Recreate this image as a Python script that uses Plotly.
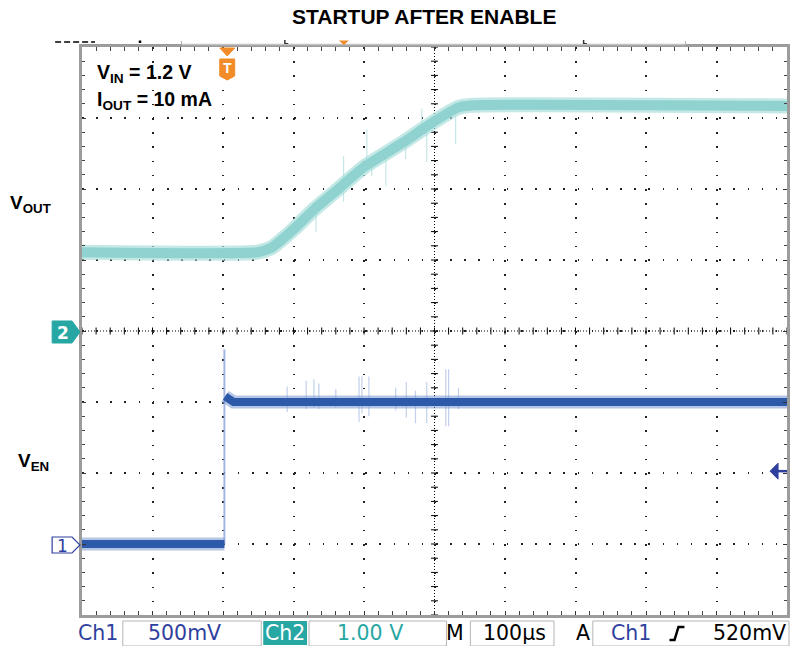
import plotly.graph_objects as go
import numpy as np

# ---------------- data ----------------
# Ch2 : V_OUT (1.00 V/div), time in microseconds (100 us/div)
vout_t = [0, 249, 268, 301, 330, 360, 400, 453, 501, 534, 555, 1000]
vout_v = [1.11, 1.11, 1.17, 1.44, 1.72, 1.97, 2.31, 2.64, 2.96, 3.15, 3.18, 3.17]
# glitches on V_OUT: time, low, high (V)
vout_sp_t = [332, 371, 404, 411, 431, 459, 482, 489, 530, 538]
vout_sp_lo = [1.39, 1.82, 2.30, 2.18, 2.04, 2.42, 2.80, 2.38, 2.63, 3.10]
vout_sp_hi = [1.76, 2.46, 2.84, 2.40, 2.55, 2.75, 3.13, 2.90, 3.10, 3.24]

# Ch1 : V_EN (500 mV/div)
ven_low_t = [0, 202]
ven_low_v = [0.0, 0.0]
ven_high_t = [203, 206, 215, 1000]
ven_high_v = [1.04, 1.03, 1.0, 1.0]
ven_edge_t = [202, 202]
ven_edge_v = [0.0, 1.37]
ven_sp_t = [291, 318, 329, 336, 360, 393, 397, 407, 445, 460, 473, 489, 516, 520, 534]
ven_sp_lo = [0.93, 0.95, 0.96, 0.95, 0.96, 0.86, 0.92, 0.90, 0.94, 0.89, 0.85, 0.85, 0.83, 0.83, 0.95]
ven_sp_hi = [1.11, 1.15, 1.16, 1.13, 1.09, 1.18, 1.18, 1.18, 1.10, 1.14, 1.08, 1.14, 1.23, 1.23, 1.10]

trig_t = 206          # trigger position (us)
trig_level = 0.52     # V (Ch1)

title = "STARTUP AFTER ENABLE"
bar_items = ["Ch1", "500mV", "Ch2", "1.00 V", "M", "100µs", "A", "Ch1", "520mV"]

# ---------------- geometry ----------------
W, H = 793, 646
L, R, T, B = 82, 790, 47, 615
PW, PH = R - L, B - T


def px(x):
    return (x - L) / PW


def py(y):
    return (B - y) / PH


CYAN = "#8fd2cf"
BLUE = "#2c5aa8"
NAVY = "#2f3f9e"
TEAL = "#27a7a4"
ORANGE = "#f28c28"


def segs(t, lo, hi):
    xs, ys = [], []
    for a, b, c in zip(t, lo, hi):
        xs += [a, a, None]
        ys += [b, c, None]
    return xs, ys


fig = go.Figure()

# V_OUT (Ch2, y2)
sx, sy = segs(vout_sp_t, vout_sp_lo, vout_sp_hi)
fig.add_trace(go.Scatter(x=sx, y=sy, mode="lines", yaxis="y2",
                         line=dict(color="rgba(150,212,210,0.55)", width=1.2),
                         hoverinfo="skip", showlegend=False))
fig.add_trace(go.Scatter(x=vout_t, y=vout_v, mode="lines", yaxis="y2",
                         line=dict(color="rgba(170,222,220,0.7)", width=15, shape="spline", smoothing=0.5),
                         hoverinfo="skip", showlegend=False))
fig.add_trace(go.Scatter(x=vout_t, y=vout_v, mode="lines", yaxis="y2",
                         line=dict(color=CYAN, width=10, shape="spline", smoothing=0.5),
                         hoverinfo="skip", showlegend=False))

# V_EN (Ch1, y)
sx, sy = segs(ven_sp_t, ven_sp_lo, ven_sp_hi)
fig.add_trace(go.Scatter(x=sx, y=sy, mode="lines",
                         line=dict(color="rgba(120,150,210,0.45)", width=1.2),
                         hoverinfo="skip", showlegend=False))
fig.add_trace(go.Scatter(x=ven_edge_t, y=ven_edge_v, mode="lines",
                         line=dict(color="rgba(140,165,220,0.8)", width=2),
                         hoverinfo="skip", showlegend=False))
for tt, vv in [(ven_low_t, ven_low_v), (ven_high_t, ven_high_v)]:
    fig.add_trace(go.Scatter(x=tt, y=vv, mode="lines",
                             line=dict(color="rgba(120,150,210,0.55)", width=13),
                             hoverinfo="skip", showlegend=False))
    fig.add_trace(go.Scatter(x=tt, y=vv, mode="lines",
                             line=dict(color=BLUE, width=8),
                             hoverinfo="skip", showlegend=False))

shapes = []
# center cross lines with minor ticks
xr = [0, 1000]
yr = [-0.5, 3.5]
shapes.append(dict(type="line", xref="x", yref="y", x0=500, x1=500, y0=yr[0], y1=yr[1],
                   line=dict(color="black", width=1, dash="1px,2px"), layer="below"))
shapes.append(dict(type="line", xref="x", yref="y", x0=xr[0], x1=xr[1], y0=1.5, y1=1.5,
                   line=dict(color="black", width=1, dash="1px,2px"), layer="below"))
hx = 3.5 / PW * 1000
hy = 3.5 / PH * 4.0
for v in np.arange(yr[0], yr[1] + 1e-9, 0.1):
    shapes.append(dict(type="line", xref="x", yref="y", x0=500 - hx, x1=500 + hx, y0=v, y1=v,
                       line=dict(color="black", width=1), layer="below"))
for t in np.arange(xr[0], xr[1] + 1e-9, 20):
    shapes.append(dict(type="line", xref="x", yref="y", x0=t, x1=t, y0=1.5 - hy, y1=1.5 + hy,
                       line=dict(color="black", width=1), layer="below"))


def path(pts, close=True):
    s = "M" + " L".join(f"{px(x):.5f},{py(y):.5f}" for x, y in pts)
    return s + (" Z" if close else "")


# channel ground markers
shapes.append(dict(type="path", xref="paper", yref="paper",
                   path=path([(52, 321), (72, 321), (80, 332), (72, 343), (52, 343)]),
                   fillcolor=TEAL, line=dict(color=TEAL, width=1)))
shapes.append(dict(type="path", xref="paper", yref="paper",
                   path=path([(52, 537), (72, 537), (80, 545), (72, 553), (52, 553)]),
                   fillcolor="white", line=dict(color=NAVY, width=1.2)))
# trigger level arrow (right)
ty = 545 - trig_level / 0.5 * 71
shapes.append(dict(type="path", xref="paper", yref="paper",
                   path=path([(773, ty), (781, ty - 8), (781, ty + 8)]),
                   fillcolor=NAVY, line=dict(color=NAVY, width=1)))
shapes.append(dict(type="line", xref="paper", yref="paper", x0=px(780), x1=px(790), y0=py(ty), y1=py(ty),
                   line=dict(color=NAVY, width=2.5)))
# trigger marker T (top)
tx = L + trig_t / 1000 * PW
shapes.append(dict(type="path", xref="paper", yref="paper",
                   path=path([(tx - 7.5, 48), (tx + 7.5, 48), (tx, 56)]),
                   fillcolor=ORANGE, line=dict(color=ORANGE, width=1)))
shapes.append(dict(type="path", xref="paper", yref="paper",
                   path=path([(tx - 7.5, 59), (tx + 7.5, 59), (tx + 7.5, 76), (tx, 80), (tx - 7.5, 76)]),
                   fillcolor=ORANGE, line=dict(color=ORANGE, width=1)))
# top status strip remnants
shapes.append(dict(type="line", xref="paper", yref="paper", x0=px(55), x1=px(95), y0=py(42), y1=py(42),
                   line=dict(color="black", width=1.5, dash="6px,3px")))
shapes.append(dict(type="rect", xref="paper", yref="paper", x0=px(139), x1=px(141.5), y0=py(43), y1=py(40.5),
                   fillcolor="black", line=dict(width=0)))
shapes.append(dict(type="line", xref="paper", yref="paper", x0=px(182), x1=px(688), y0=py(44.5), y1=py(44.5),
                   line=dict(color="#c4c4c4", width=1.5)))
for xx in (182, 688):
    shapes.append(dict(type="line", xref="paper", yref="paper", x0=px(xx), x1=px(xx), y0=py(41), y1=py(45),
                       line=dict(color="#aaaaaa", width=1)))
for xx in (285, 585):
    shapes.append(dict(type="path", xref="paper", yref="paper",
                       path=path([(xx, 40), (xx, 44), (xx + 4, 44), (xx + 4, 43), (xx + 1.5, 43), (xx + 1.5, 40)]),
                       fillcolor="#333333", line=dict(width=0)))
shapes.append(dict(type="path", xref="paper", yref="paper",
                   path=path([(340, 40.5), (350, 40.5), (345, 45)]),
                   fillcolor=ORANGE, line=dict(width=0)))

# bottom status bar boxes
BY0, BY1 = 621, 646
for x0, x1 in [(123, 262), (310, 448), (472, 556), (595, 792)]:
    shapes.append(dict(type="rect", xref="paper", yref="paper", x0=px(x0), x1=px(x1), y0=py(BY1), y1=py(BY0),
                       fillcolor="white", line=dict(color="#b5b5b5", width=1)))
shapes.append(dict(type="rect", xref="paper", yref="paper", x0=px(264), x1=px(308), y0=py(BY1 - 1), y1=py(BY0),
                   fillcolor=TEAL, line=dict(width=0)))
# rising-edge symbol
shapes.append(dict(type="path", xref="paper", yref="paper",
                   path=path([(672, 640), (677, 640), (681, 627), (687, 627)], close=False),
                   line=dict(color="black", width=2.5)))

annotations = []


def txt(s, x, y, size, color="black", bold=False, xanchor="center", family="Liberation Sans, Arial, sans-serif"):
    annotations.append(dict(text=f"<b>{s}</b>" if bold else s, xref="paper", yref="paper",
                            x=px(x), y=py(y), xanchor=xanchor, yanchor="middle", showarrow=False,
                            font=dict(size=size, color=color, family=family)))


txt(title, 425, 17, 21, bold=True)
txt("V<sub>IN</sub> = 1.2 V", 95, 73, 19.5, bold=True, xanchor="left")
txt("I<sub>OUT</sub> = 10 mA", 95, 100, 19.5, bold=True, xanchor="left")
txt("V<sub>OUT</sub>", 8, 204, 19, bold=True, xanchor="left")
txt("V<sub>EN</sub>", 16, 462, 19, bold=True, xanchor="left")
txt("2", 63, 333, 17, color="white", bold=True, family="DejaVu Sans")
txt("1", 62, 546, 17, color=NAVY, family="DejaVu Sans")
txt("T", tx, 68, 14, color="white", bold=True)

DV = "DejaVu Sans, sans-serif"
bar_pos = [(98, NAVY), (185, NAVY), (286, "white"), (371, TEAL), (457, "black"),
           (516, "black"), (585, "black"), (633, NAVY), (752, "black")]
for s, (xx, col) in zip(bar_items, bar_pos):
    txt(s, xx, 633, 20.5, color=col, family=DV)

grid_dash_x = f"1.6px,{PH / 40 - 1.6:.3f}px"
grid_dash_y = f"1.6px,{PW / 50 - 1.6:.3f}px"

fig.update_layout(
    width=W, height=H,
    margin=dict(l=L, r=W - R, t=T, b=H - B, pad=0),
    paper_bgcolor="white", plot_bgcolor="white",
    showlegend=False,
    shapes=shapes, annotations=annotations,
    xaxis=dict(range=xr, dtick=100, tick0=0, showgrid=True, gridcolor="#222222", gridwidth=1.6,
               griddash=grid_dash_x, zeroline=False, showticklabels=False,
               showline=True, linecolor="#9c9c9c", linewidth=3, mirror="allticks",
               ticks="inside", ticklen=4, tickcolor="#333333",
               minor=dict(dtick=20, ticks="inside", ticklen=3, tickcolor="#444444", showgrid=False),
               fixedrange=True),
    yaxis=dict(range=yr, dtick=0.5, tick0=0, showgrid=True, gridcolor="#222222", gridwidth=1.6,
               griddash=grid_dash_y, zeroline=False, showticklabels=False,
               showline=True, linecolor="#9c9c9c", linewidth=3, mirror="allticks",
               ticks="inside", ticklen=4, tickcolor="#333333",
               minor=dict(dtick=0.1, ticks="inside", ticklen=3, tickcolor="#444444", showgrid=False),
               fixedrange=True),
    yaxis2=dict(range=[-4, 4], overlaying="y", showgrid=False, zeroline=False,
                showticklabels=False, showline=False, ticks="", fixedrange=True),
)

fig.write_html("out.html", config={"displayModeBar": False},
               post_script="document.body.style.margin='0';document.body.style.overflow='hidden';")
